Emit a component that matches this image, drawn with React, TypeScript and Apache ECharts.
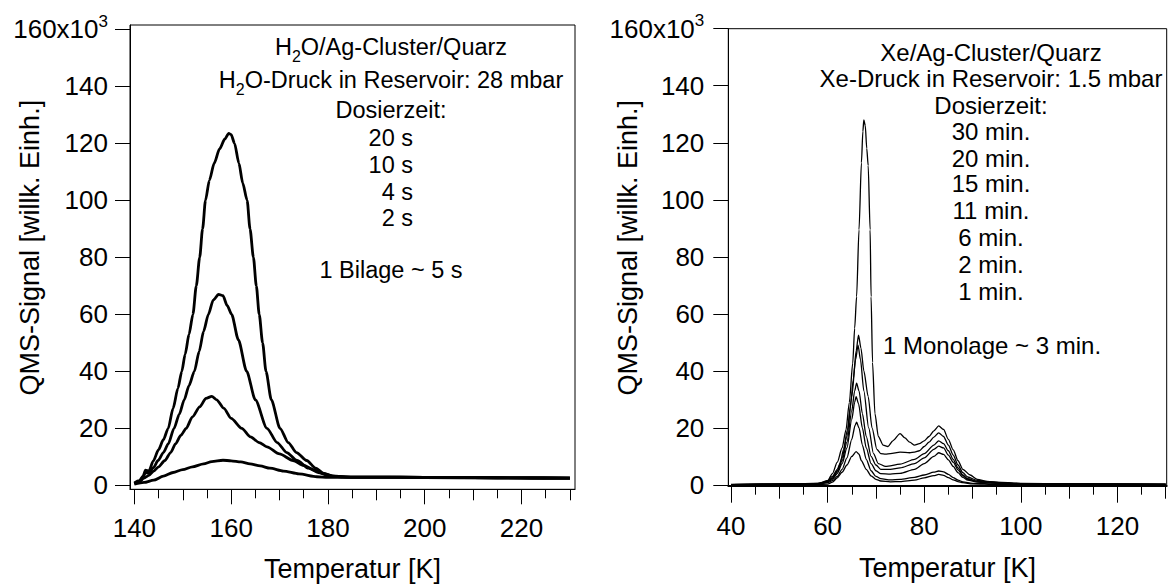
import React, { useEffect, useRef } from "react";
import * as echarts from "echarts";

// ---------- Data (signal in 10^3 arbitrary units, temperature in K) ----------
// Left panel: H2O / Ag-Cluster / Quarz, dosing times 20 s, 10 s, 4 s, 2 s
const h2o20s: [number, number][] = [
  [140, 0.8], [141, 1.6], [141.8, 3.2], [142.3, 5.3], [143, 5], [143.9, 8.5], [145, 12.5], [146, 16],
  [147, 20], [148, 27], [149, 34], [149.8, 40], [150.5, 46], [151.3, 53], [152.1, 60], [152.8, 70],
  [153.5, 80], [154.1, 90], [154.7, 100], [155.5, 107], [156.5, 113], [157.6, 118], [158.7, 121.5],
  [159.5, 123.5], [160, 123], [160.7, 120], [161.6, 113], [162.4, 106], [163.3, 100], [163.9, 90],
  [164.6, 80], [165.2, 70], [165.8, 60], [166.5, 50], [167.2, 40], [168.3, 30], [170.1, 20],
  [171.8, 15], [173.5, 11.5], [175.6, 8.7], [177.5, 6], [179, 4.3], [181, 3.2], [185, 2.9],
  [190, 2.9], [200, 2.8], [210, 2.7], [220, 2.6], [230, 2.5],
];
const h2o10s: [number, number][] = [
  [140, 0.6], [141, 1.3], [141.8, 2.8], [142.3, 4.5], [143, 4.3], [144, 6.3], [144.9, 8.7], [146, 11.5],
  [147, 14.5], [148.2, 20], [149.3, 25], [150.3, 30], [151.3, 35], [152.4, 40], [153.4, 47], [154.3, 54],
  [155.3, 60], [156.3, 65], [157.4, 67], [158.3, 66.5], [159.2, 63], [160.1, 60], [161.5, 51],
  [163.2, 40], [165, 30], [167.4, 20], [169.5, 15], [171.5, 11.5], [173.6, 8.7], [176, 6], [178, 4.5],
  [180, 3.4], [183, 2.9], [190, 2.9], [200, 2.8], [210, 2.7], [220, 2.6], [230, 2.5],
];
const h2o4s: [number, number][] = [
  [140, 0.5], [141, 1.2], [142, 2.5], [143, 3.5], [144, 5], [145, 6.5], [146.3, 8.7], [147.5, 11.5],
  [148.5, 14.5], [149.6, 17.5], [150.7, 20], [152, 24], [153.5, 27.5], [154.8, 30.5], [156, 31.2],
  [157, 30], [158.5, 27], [160, 23.5], [162.2, 20], [164, 17], [165.8, 15], [167.4, 13.5], [170, 11],
  [172.8, 8.7], [175, 7], [177, 5.5], [179, 4.2], [181, 3.2], [185, 2.9], [200, 2.8], [215, 2.6], [230, 2.5],
];
const h2o2s: [number, number][] = [
  [140, 0.4], [142, 1], [144, 1.8], [146, 3.2], [148, 4.5], [150, 5.5], [152, 6.5], [154.3, 7.5],
  [156, 8.3], [158.3, 8.8], [160, 8.6], [162, 8.2], [163.9, 7.5], [166, 6.8], [168, 6], [170.8, 5],
  [174, 4], [177.7, 3], [180, 2.8], [190, 2.8], [200, 2.7], [215, 2.6], [230, 2.5],
];

// Right panel: Xe / Ag-Cluster / Quarz, dosing times 30, 20, 15, 11, 6, 2, 1 min
const xe30min: [number, number][] = [
  [40, 0.2], [50, 0.3], [55, 0.5], [59, 0.6], [60, 1.5], [61, 4], [62, 8], [63, 13], [63.8, 19.3],
  [64.5, 29], [65.2, 42.7], [65.6, 55], [66, 66], [66.5, 89.5], [67, 113], [67.3, 124], [67.5, 128],
  [67.8, 126], [68.1, 118], [68.4, 112], [68.8, 89.5], [69, 66], [69.3, 43], [69.8, 25], [70.5, 17],
  [71.5, 14], [72.5, 13.5], [73.5, 15.5], [75, 18], [76, 16.5], [77, 15], [78, 14], [79, 14.5],
  [80, 15.5], [81, 17], [82, 19], [83, 20.7], [84, 19.5], [85, 16], [86, 12.3], [87, 8.5], [88, 5.5],
  [89.5, 3.5], [91, 2], [93, 1.3], [96, 0.9], [100, 0.6], [110, 0.4], [130, 0.3],
];
const xe20min: [number, number][] = [
  [40, 0.1], [55, 0.3], [58, 0.6], [60, 1.5], [61, 3], [62, 5.5], [62.6, 7.6], [63.3, 12.5],
  [64.1, 19.3], [64.7, 27], [65.3, 36.8], [65.9, 47], [66.4, 52.5], [66.9, 48], [67.5, 40], [68.4, 31],
  [69.2, 20], [70.2, 12.5], [71, 11], [72, 10.8], [73, 11], [75, 11.5], [77, 11.3], [78, 11.5], [79, 12],
  [80, 13.5], [81, 15], [82, 16.8], [83, 18.3], [84, 17], [85, 14], [86, 10.5], [87, 7], [88, 4.3],
  [89, 2.8], [91, 1.6], [94, 1], [100, 0.5], [110, 0.3], [130, 0.2],
];
const xe15min: [number, number][] = [
  [40, 0.1], [58, 0.5], [60, 1.3], [61, 2.5], [62, 5], [63, 9.5], [64, 17], [65, 31], [65.8, 44],
  [66.3, 49], [66.8, 44], [67.5, 33], [68.5, 20], [69.5, 11], [70.5, 7.5], [72, 6.5], [75, 7.3],
  [78, 9], [80, 11], [82, 14], [83, 15.5], [84, 14.5], [85, 12], [86, 9], [87, 6], [88, 3.5], [89, 2.2],
  [91, 1.3], [95, 0.8], [100, 0.4], [130, 0.2],
];
const xe11min: [number, number][] = [
  [40, 0.1], [58, 0.5], [60, 1.2], [61, 2.3], [62, 4.5], [63, 8.5], [64, 15], [65, 26], [65.6, 33],
  [66, 35.7], [66.5, 33], [67.2, 25], [68, 17], [69, 10], [70, 7], [71, 5.5], [73, 5.5], [75, 6],
  [78, 7.5], [80, 9.5], [82, 12.5], [83, 13.6], [84, 13], [85, 10.5], [86, 8], [87, 5.3], [88, 3.3],
  [89, 2], [91, 1.2], [95, 0.7], [100, 0.4], [130, 0.2],
];
const xe6min: [number, number][] = [
  [40, 0.1], [58, 0.4], [60, 1], [61, 2], [62, 4], [63, 7.5], [64, 13], [65, 23], [65.6, 29],
  [65.9, 31], [66.4, 28.5], [67.2, 20], [68, 13], [69, 7.5], [70, 5], [71, 4], [73, 3.8], [75, 4.1],
  [78, 5.5], [80, 7.5], [82, 10], [83, 11.3], [84, 10.7], [85, 8.8], [86, 6.5], [87, 4.3], [88, 2.7],
  [89, 1.7], [91, 1], [95, 0.6], [100, 0.3], [130, 0.2],
];
const xe2min: [number, number][] = [
  [40, 0.05], [58, 0.3], [60, 0.8], [61, 1.5], [62, 3], [63, 5.5], [64, 9.5], [65, 16], [65.7, 21],
  [66, 22], [66.5, 20], [67.2, 14], [68, 9], [69, 5], [70, 3], [71, 2.2], [73, 1.8], [75, 2], [78, 2.7],
  [80, 3.5], [82, 4.5], [83, 4.9], [84, 4.6], [85, 3.7], [86, 2.6], [87, 1.7], [88, 1.1], [90, 0.6],
  [95, 0.3], [130, 0.1],
];
const xe1min: [number, number][] = [
  [40, 0.05], [58, 0.2], [60, 0.3], [61, 1], [62, 2.5], [63, 4.5], [64, 7], [65, 10], [65.9, 11.7],
  [66.5, 10.8], [67, 8.5], [68, 5.5], [69, 3.2], [70, 2], [71, 1.4], [73, 1.1], [75, 1.2], [78, 1.7],
  [80, 2.5], [82, 3.3], [83, 3.7], [84, 3.4], [85, 2.6], [86, 1.8], [87, 1.2], [88, 0.8], [90, 0.4],
  [95, 0.2], [130, 0.1],
];

// Ticks
const yTicks = [0, 20, 40, 60, 80, 100, 120, 140, 160];
const leftXMajor = [140, 160, 180, 200, 220];
const leftXMedium = [150, 170, 190, 210, 230];
const leftXMinor = [145, 155, 165, 175, 185, 195, 205, 215, 225];
const rightXMajor = [40, 60, 80, 100, 120];
const rightXMedium = [50, 70, 90, 110, 130];
const rightXMinor = [45, 55, 65, 75, 85, 95, 105, 115, 125];

// Texts
const yTitle = "QMS-Signal [willk. Einh.]";
const xTitle = "Temperatur [K]";
const leftHeader = ["{n|H}{s|2}{n|O/Ag-Cluster/Quarz}", "{n|H}{s|2}{n|O-Druck in Reservoir: 28 mbar}", "Dosierzeit:"];
const leftDoses = ["20 s", "10 s", "4 s", "2 s"];
const leftNote = "1 Bilage ~ 5 s";
const rightHeader = ["Xe/Ag-Cluster/Quarz", "Xe-Druck in Reservoir: 1.5 mbar", "Dosierzeit:"];
const rightDoses = ["30 min.", "20 min.", "15 min.", "11 min.", "6 min.", "2 min.", "1 min."];
const rightNote = "1 Monolage ~ 3 min.";

const FONT = "Liberation Sans, Arial, Helvetica, sans-serif";

function tickAxes(
  gridIndex: number,
  min: number,
  max: number,
  major: number[],
  medium: number[],
  minor: number[],
  majorLen: number,
  labelMargin: number,
  nameGap: number,
  lineWidth: number
) {
  const common = {
    type: "value",
    gridIndex,
    min,
    max,
    position: "bottom",
    splitLine: { show: false },
  };
  return [
    {
      ...common,
      axisLine: { show: true, onZero: false, lineStyle: { color: "#000", width: lineWidth } },
      axisTick: { show: true, inside: false, length: majorLen, customValues: major, lineStyle: { color: "#000", width: 1 } },
      axisLabel: { show: true, customValues: major, margin: labelMargin, color: "#000", fontSize: 26, fontFamily: FONT },
      name: xTitle,
      nameLocation: "middle",
      nameGap,
      nameMoveOverlap: false,
      nameTextStyle: { color: "#000", fontSize: 27, fontFamily: FONT },
    },
    {
      ...common,
      axisLine: { show: false, onZero: false },
      axisTick: { show: true, inside: false, length: majorLen - 4, customValues: medium, lineStyle: { color: "#000", width: 1 } },
      axisLabel: { show: false },
    },
    {
      ...common,
      axisLine: { show: false, onZero: false },
      axisTick: { show: true, inside: false, length: 9, customValues: minor, lineStyle: { color: "#000", width: 1 } },
      axisLabel: { show: false },
    },
  ];
}

function yAxisDef(gridIndex: number, min: number, max: number, labelMargin: number) {
  return {
    type: "value",
    gridIndex,
    min,
    max,
    splitLine: { show: false },
    axisLine: { show: true, onZero: false, lineStyle: { color: "#000", width: 1 } },
    axisTick: { show: true, inside: false, length: 15, customValues: yTicks, lineStyle: { color: "#000", width: 1 } },
    axisLabel: {
      show: true,
      customValues: yTicks,
      margin: labelMargin,
      color: "#000",
      fontSize: 26,
      fontFamily: FONT,
      formatter: (v: number) => (v === 160 ? "{a|160x10}{b|3}" : String(v)),
      rich: {
        a: { fontSize: 26, lineHeight: 33, fontFamily: FONT, color: "#000" },
        b: { fontSize: 17, lineHeight: 17, verticalAlign: "top", fontFamily: FONT, color: "#000" },
      },
    },
    name: yTitle,
    nameLocation: "middle",
    nameGap: 87,
    nameMoveOverlap: false,
    nameTextStyle: { color: "#000", fontSize: 27, fontFamily: FONT, padding: [0, 0, 0, 19] },
  };
}

function lineSeries(data: [number, number][], axisIdx: number, yIdx: number, width: number) {
  return {
    type: "line",
    xAxisIndex: axisIdx,
    yAxisIndex: yIdx,
    data,
    showSymbol: false,
    symbol: "none",
    smooth: 0.25,
    smoothMonotone: "x",
    lineStyle: { color: "#000", width },
    silent: true,
  };
}

function txt(text: string, x: number, y: number, size: number, align: string = "center") {
  return {
    type: "text",
    x,
    y,
    silent: true,
    style: {
      text,
      fontSize: size,
      fontFamily: FONT,
      fill: "#000",
      align,
      textAlign: align,
      verticalAlign: "middle",
      textVerticalAlign: "middle",
      rich: {
        n: { fontSize: size, lineHeight: 34, fontFamily: FONT, fill: "#000", color: "#000" },
        s: { fontSize: 16, lineHeight: 16, verticalAlign: "bottom", fontFamily: FONT, fill: "#000", color: "#000" },
      },
    },
  };
}

export default function App() {
  const ref = useRef<HTMLDivElement>(null);

  useEffect(() => {
    if (!ref.current) return;
    const chart = echarts.init(ref.current, undefined, { renderer: "svg" });

    const leftYPos = [47, 80, 110];
    const leftDoseY = [138, 165, 192, 218];
    const rightYPos = [52, 78.5, 105];
    const rightDoseY = [131.7, 158, 183.5, 210, 237, 264, 291];

    const graphic: any[] = [];
    leftHeader.forEach((t, i) => graphic.push(txt(t, 391, leftYPos[i], 23.5)));
    leftDoses.forEach((t, i) => graphic.push(txt(t, 413, leftDoseY[i], 23.5, "right")));
    graphic.push(txt(leftNote, 391, 270, 23.5));
    rightHeader.forEach((t, i) => graphic.push(txt(t, 991, rightYPos[i], 24)));
    rightDoses.forEach((t, i) => graphic.push(txt(t, 991, rightDoseY[i], 24)));
    graphic.push(txt(rightNote, 992, 345, 24));

    const option: any = {
      animation: false,
      backgroundColor: "#fff",
      textStyle: { fontFamily: FONT },
      grid: [
        { left: 130, top: 25, width: 445, height: 464.3, show: true, borderColor: "#000", borderWidth: 1, containLabel: false, outerBoundsMode: "none" },
        { left: 728.3, top: 28.7, width: 438.4, height: 457, show: true, borderColor: "#000", borderWidth: 1, containLabel: false, outerBoundsMode: "none" },
      ],
      xAxis: [
        ...tickAxes(0, 139.1, 231.05, leftXMajor, leftXMedium, leftXMinor, 15, 26, 66, 1),
        ...tickAxes(1, 39.44, 130.2, rightXMajor, rightXMedium, rightXMinor, 17, 27, 69, 2),
      ],
      yAxis: [yAxisDef(0, -1.4, 161.5, 22), yAxisDef(1, -0.25, 160, 24)],
      series: [
        lineSeries(h2o20s, 0, 0, 2.8),
        lineSeries(h2o10s, 0, 0, 2.8),
        lineSeries(h2o4s, 0, 0, 2.8),
        lineSeries(h2o2s, 0, 0, 2.8),
        lineSeries(xe30min, 3, 1, 1.3),
        lineSeries(xe20min, 3, 1, 1.3),
        lineSeries(xe15min, 3, 1, 1.3),
        lineSeries(xe11min, 3, 1, 1.3),
        lineSeries(xe6min, 3, 1, 1.3),
        lineSeries(xe2min, 3, 1, 1.3),
        lineSeries(xe1min, 3, 1, 1.3),
      ],
      graphic,
    };

    chart.setOption(option);
    return () => chart.dispose();
  }, []);

  return (
    <div
      ref={ref}
      style={{ position: "absolute", left: 0, top: 0, width: 1169, height: 585, background: "#fff" }}
    />
  );
}
